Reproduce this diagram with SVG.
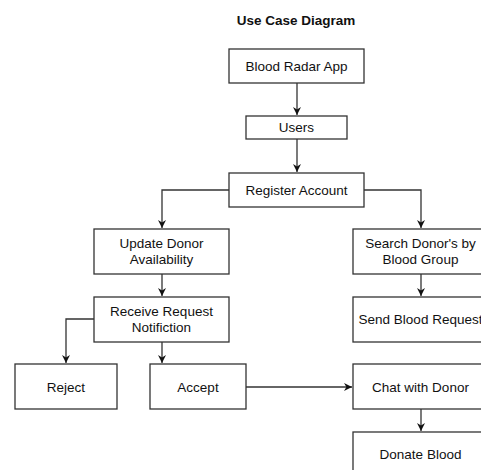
<svg xmlns="http://www.w3.org/2000/svg" width="481" height="470" viewBox="0 0 481 470">
<defs>
<style>
.box{fill:#fff;stroke:#333;stroke-width:1.3}
.t{font-family:"Liberation Sans",Arial,sans-serif;font-size:13.5px;fill:#111;text-anchor:middle}
.title{font-family:"Liberation Sans",Arial,sans-serif;font-size:13.5px;font-weight:bold;fill:#111;text-anchor:middle}
.c{fill:none;stroke:#333;stroke-width:1.3}
</style>
<marker id="ah" viewBox="0 0 10 10" refX="10" refY="5" markerWidth="8" markerHeight="8" markerUnits="userSpaceOnUse" orient="auto">
<path d="M0,0 L10,5 L0,10 L3,5 Z" fill="#111"/>
</marker>
</defs>
<rect width="481" height="470" fill="#fff"/>
<text class="title" x="296" y="25">Use Case Diagram</text>
<g id="connectors">
<path class="c" d="M297,83 V115" marker-end="url(#ah)"/>
<path class="c" d="M297,139 V172" marker-end="url(#ah)"/>
<path class="c" d="M229,190 H162 V228" marker-end="url(#ah)"/>
<path class="c" d="M364,190 H421 V228" marker-end="url(#ah)"/>
<path class="c" d="M162,274 V296" marker-end="url(#ah)"/>
<path class="c" d="M421,274 V296" marker-end="url(#ah)"/>
<path class="c" d="M94,319 H66 V363" marker-end="url(#ah)"/>
<path class="c" d="M162,342 V363" marker-end="url(#ah)"/>
<path class="c" d="M246,387 H352" marker-end="url(#ah)"/>
<path class="c" d="M421,409 V431" marker-end="url(#ah)"/>
</g>
<g id="app"><rect class="box" x="229" y="49" width="135" height="34"/><text class="t" x="296.5" y="71">Blood Radar App</text></g>
<g id="users"><rect class="box" x="246" y="116" width="101" height="23"/><text class="t" x="296.5" y="132">Users</text></g>
<g id="register"><rect class="box" x="229" y="173" width="135" height="34"/><text class="t" x="296.5" y="195">Register Account</text></g>
<g id="update"><rect class="box" x="94" y="229" width="135" height="45"/><text class="t" x="161.5" y="248">Update Donor</text><text class="t" x="161.5" y="264">Availability</text></g>
<g id="search"><rect class="box" x="353" y="229" width="135" height="45"/><text class="t" x="420.5" y="248">Search Donor's by</text><text class="t" x="420.5" y="264">Blood Group</text></g>
<g id="receive"><rect class="box" x="94" y="297" width="135" height="45"/><text class="t" x="161.5" y="316">Receive Request</text><text class="t" x="161.5" y="332">Notifiction</text></g>
<g id="send"><rect class="box" x="353" y="297" width="135" height="45"/><text class="t" x="420.5" y="324">Send Blood Request</text></g>
<g id="reject"><rect class="box" x="15" y="364" width="102" height="45"/><text class="t" x="66" y="392">Reject</text></g>
<g id="accept"><rect class="box" x="150" y="364" width="96" height="45"/><text class="t" x="198" y="392">Accept</text></g>
<g id="chat"><rect class="box" x="353" y="364" width="135" height="45"/><text class="t" x="420.5" y="392">Chat with Donor</text></g>
<g id="donate"><rect class="box" x="353" y="432" width="135" height="45"/><text class="t" x="420.5" y="459">Donate Blood</text></g>
</svg>
